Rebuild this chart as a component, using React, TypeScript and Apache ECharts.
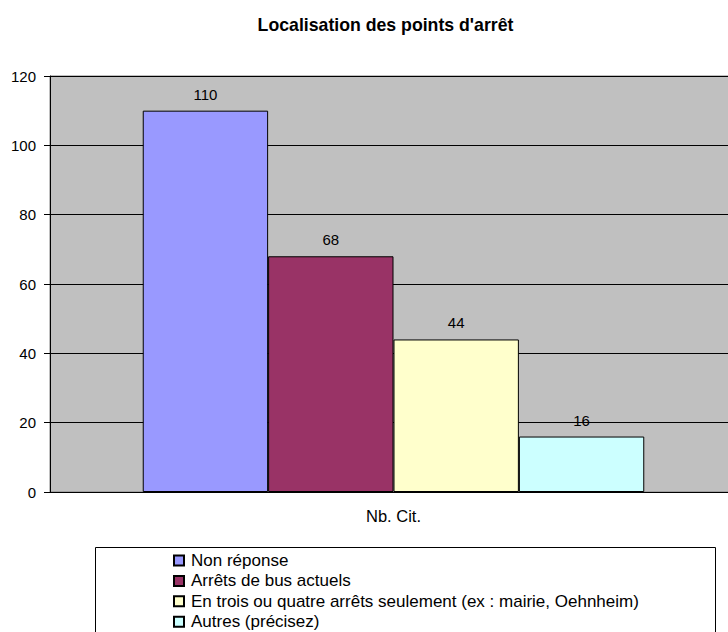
import React, { useEffect, useRef } from "react";
import * as echarts from "echarts";

const title = "Localisation des points d'arrêt";
const categories = ["Nb. Cit."];
const seriesNames = [
  "Non réponse",
  "Arrêts de bus actuels",
  "En trois ou quatre arrêts seulement (ex : mairie, Oehnheim)",
  "Autres (précisez)",
];
const seriesValues = [110, 68, 44, 16];
const seriesColors = ["#9999ff", "#993366", "#ffffcc", "#ccffff"];
const yMin = 0;
const yMax = 120;
const yInterval = 20;

const FONT = "'Liberation Sans', Arial, sans-serif";

export default function App() {
  const ref = useRef<HTMLDivElement>(null);
  useEffect(() => {
    if (!ref.current) return;
    const chart = echarts.init(ref.current, undefined, { renderer: "svg" });
    chart.setOption({
      animation: false,
      backgroundColor: "#ffffff",
      grid: {
        left: 50,
        top: 76,
        bottom: 140,
        width: 687,
        outerBoundsMode: "none",
        show: true,
        backgroundColor: "#c0c0c0",
        borderColor: "#808080",
        borderWidth: 1,
        containLabel: false,
      },
      legend: {
        orient: "vertical",
        left: 173,
        top: 552,
        padding: 0,
        itemWidth: 10,
        itemHeight: 10,
        itemGap: 3.4,
        icon: "rect",
        textStyle: {
          fontFamily: FONT,
          fontSize: 17,
          lineHeight: 17,
          color: "#000",
          padding: [0, 0, 0, 2],
        },
        data: seriesNames,
      },
      xAxis: {
        type: "category",
        data: categories,
        axisLine: { show: true, lineStyle: { color: "#000", width: 1 } },
        axisTick: { show: false },
        axisLabel: { fontFamily: FONT, fontSize: 16.5, color: "#000", margin: 15 },
      },
      yAxis: {
        type: "value",
        min: yMin,
        max: yMax,
        interval: yInterval,
        axisLine: { show: true, lineStyle: { color: "#000", width: 1 } },
        axisTick: { show: true, length: 6, inside: false, lineStyle: { color: "#000" } },
        axisLabel: { fontFamily: FONT, fontSize: 15, color: "#000", margin: 14 },
        splitLine: { show: true, lineStyle: { color: "#000", width: 1 } },
      },
      graphic: [
        {
          type: "text",
          x: 385.5,
          y: 25,
          style: {
            text: title,
            textAlign: "center",
            textVerticalAlign: "middle",
            fontFamily: FONT,
            fontSize: 17.7,
            fontWeight: "bold",
            fill: "#000",
          },
        },
        {
          type: "rect",
          shape: { x: 95.5, y: 547.5, width: 620, height: 120 },
          style: { fill: "none", stroke: "#000", lineWidth: 1 },
          z: 10,
        },
      ],
      series: seriesNames.map((name, i) => ({
        name,
        type: "bar",
        data: [seriesValues[i]],
        barGap: "0%",
        barCategoryGap: "27%",
        itemStyle: { color: seriesColors[i], borderColor: "#000", borderWidth: 1 },
        label: {
          show: true,
          position: "top",
          distance: 9,
          fontFamily: FONT,
          fontSize: 15,
          color: "#000",
        },
      })),
    });
    return () => chart.dispose();
  }, []);
  return (
    <div
      ref={ref}
      style={{ position: "absolute", left: 0, top: 0, width: 728, height: 632 }}
    />
  );
}
